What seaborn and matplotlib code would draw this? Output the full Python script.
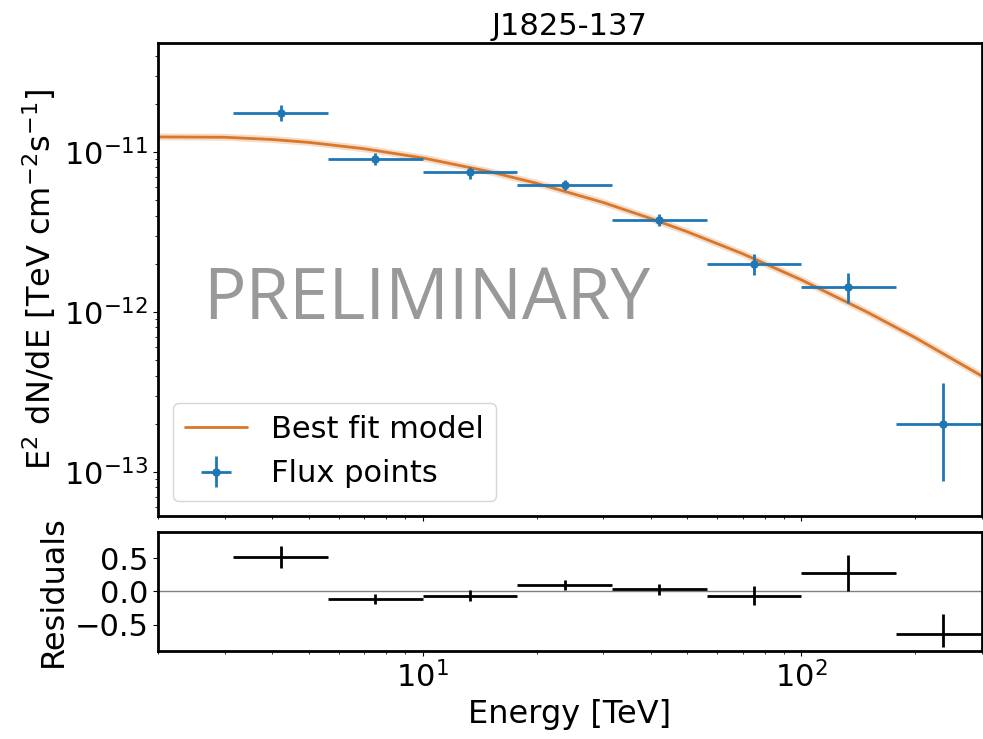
import numpy as np
import pandas as pd
import matplotlib
matplotlib.use("Agg")
import matplotlib.pyplot as plt
import seaborn as sns

# Energy bins of the flux points [TeV]
e_min = [3.16, 5.62, 10.0, 17.8, 31.6, 56.2, 100.0, 178.0]
e_ref = [4.22, 7.5, 13.3, 23.7, 42.2, 75.0, 133.0, 237.0]
e_max = [5.62, 10.0, 17.8, 31.6, 56.2, 100.0, 178.0, 316.0]

# E^2 dN/dE flux points and their errors [TeV cm^-2 s^-1]
flux = [1.76e-11, 9.05e-12, 7.45e-12, 6.25e-12, 3.78e-12, 1.99e-12, 1.43e-12, 1.98e-13]
flux_errn = [1.9e-12, 7.7e-13, 6.4e-13, 4.4e-13, 3.2e-13, 3.0e-13, 2.9e-13, 1.1e-13]
flux_errp = [2.0e-12, 7.7e-13, 6.4e-13, 4.4e-13, 3.2e-13, 3.0e-13, 3.2e-13, 1.6e-13]

# Best-fit spectral model sampled in energy
model_energy = [2, 3, 4, 5, 7, 10, 15, 20, 30, 40, 50, 70, 100, 150, 200, 300, 320]
model_flux = [1.242e-11, 1.236e-11, 1.197e-11, 1.148e-11, 1.048e-11, 9.18e-12,
              7.54e-12, 6.37e-12, 4.83e-12, 3.84e-12, 3.17e-12, 2.31e-12,
              1.587e-12, 9.91e-13, 6.90e-13, 3.97e-13, 3.62e-13]

# Fractional residuals (data - model) / model
residual = [0.51, -0.115, -0.06, 0.10, 0.03, -0.06, 0.27, -0.63]
residual_errn = [0.165, 0.075, 0.08, 0.077, 0.088, 0.14, 0.265, 0.20]
residual_errp = [0.165, 0.075, 0.08, 0.077, 0.088, 0.14, 0.27, 0.29]

sns.set_style("ticks", {"axes.edgecolor": "black", "text.color": "black",
                        "axes.labelcolor": "black", "xtick.color": "black",
                        "ytick.color": "black"})
plt.rcParams["font.family"] = ["DejaVu Sans"]
plt.rcParams["axes.linewidth"] = 2.0
plt.rcParams["xtick.labelsize"] = 22
plt.rcParams["ytick.labelsize"] = 22

blue = "#1f77b4"
orange = "#d9772a"

fig = plt.figure(figsize=(9.83, 7.39), dpi=100)
ax = fig.add_axes([0.1607, 0.3018, 0.8383, 0.6400])
axr = fig.add_axes([0.1607, 0.1191, 0.8383, 0.1610], sharex=ax)

model_df = pd.DataFrame({"energy": model_energy, "flux": model_flux})
sns.lineplot(data=model_df, x="energy", y="flux", ax=ax, color=orange,
             lw=5, alpha=0.25, estimator=None, sort=True, legend=False)
sns.lineplot(data=model_df, x="energy", y="flux", ax=ax, color=orange,
             lw=2, estimator=None, sort=True, label="Best fit model")

e_ref_a = np.array(e_ref)
xerr = [e_ref_a - np.array(e_min), np.array(e_max) - e_ref_a]
ax.errorbar(e_ref, flux, xerr=xerr, yerr=[flux_errn, flux_errp], fmt="o",
            color=blue, ms=5, lw=2, capsize=0)
# legend entry for the flux points
ax.errorbar([], [], xerr=[], yerr=[], fmt="o", color=blue, ms=5, lw=2,
            capsize=4, label="Flux points")

ax.set_xscale("log")
ax.set_yscale("log")
ax.set_xlim(2, 300)
ax.set_ylim(5.3e-14, 4.8e-11)
ax.set_xlabel("")
ax.set_ylabel(r"E$^2$ dN/dE [TeV cm$^{-2}$s$^{-1}$]", fontsize=23)
ax.set_title("J1825-137", fontsize=22, pad=6)
ax.tick_params(axis="x", labelbottom=False)

handles, labels = ax.get_legend_handles_labels()
order = [labels.index("Best fit model"), labels.index("Flux points")]
ax.legend([handles[i] for i in order], [labels[i] for i in order],
          loc="lower left", fontsize=22, framealpha=0.8)

ax.text(0.326, 0.457, "PRELIMINARY", transform=ax.transAxes, ha="center",
        va="center", fontsize=51, color="#999999", family="Open Sans")

# Residual panel
axr.axhline(0, color="gray", lw=1)
axr.errorbar(e_ref, residual, xerr=xerr, yerr=[residual_errn, residual_errp],
             fmt="none", ecolor="black", lw=2)
axr.set_xscale("log")
axr.set_xlim(2, 300)
axr.set_ylim(-0.89, 0.89)
axr.set_yticks([-0.5, 0.0, 0.5])
axr.set_ylabel("Residuals", fontsize=23)
axr.set_xlabel("Energy [TeV]", fontsize=23)

fig.savefig("out.png", dpi=100)
